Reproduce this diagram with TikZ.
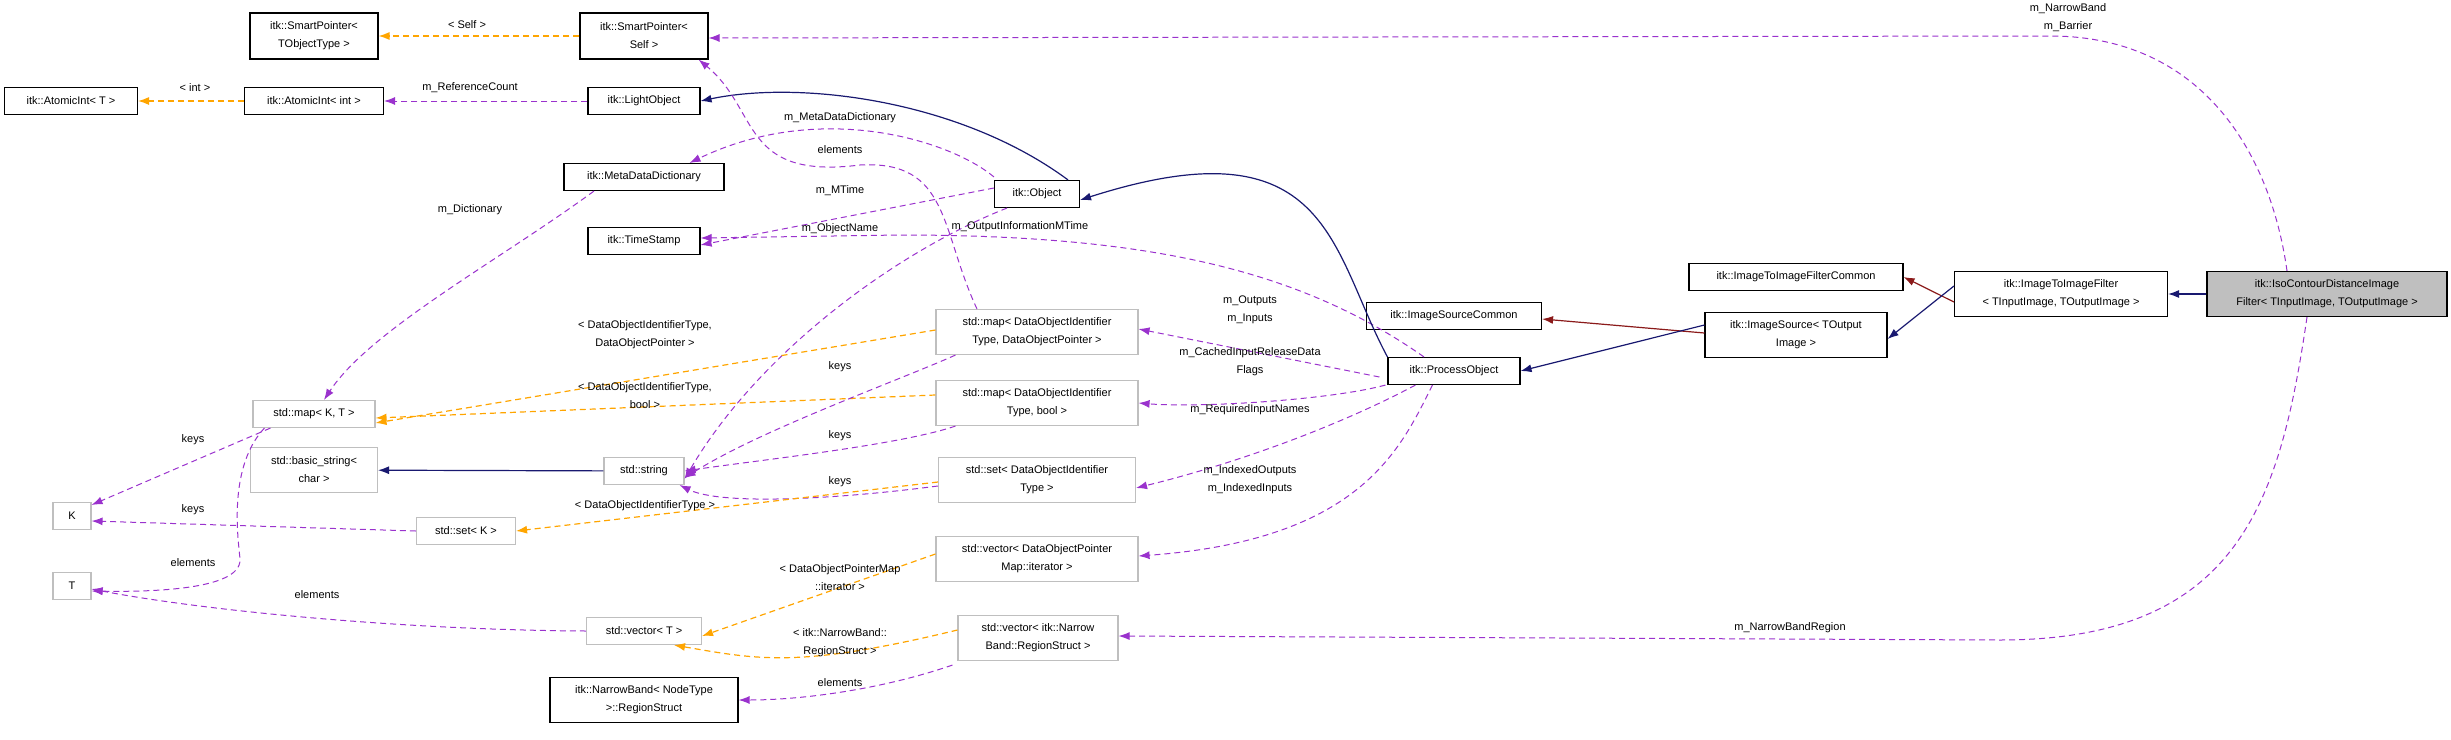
\documentclass[tikz,border=0pt]{standalone}
\usepackage{fontspec}
\setmainfont{Liberation Sans}
\usetikzlibrary{arrows.meta}
\definecolor{pur}{HTML}{9A32CD}
\definecolor{org}{HTML}{FFA500}
\definecolor{nav}{HTML}{191970}
\definecolor{drd}{HTML}{8B1A1A}
\definecolor{gbd}{HTML}{BFBFBF}
\begin{document}
\begin{tikzpicture}[x=1pt,y=-1pt,
  every node/.style={font=\fontsize{11}{18}\selectfont, inner sep=2pt},
  ib/.style={draw=black, line width=1.1pt, fill=white, align=center},
  gb/.style={draw=gbd, line width=1.1pt, fill=white, align=center},
  lbl/.style={align=center},
  tip/.style={-{Latex[length=11pt,width=8pt]}},
  mem/.style={tip, draw=pur, line width=1pt, dash pattern=on 6pt off 4pt},
  tpl/.style={tip, draw=org, line width=1.2pt, dash pattern=on 6pt off 4pt},
  inh/.style={tip, draw=nav, line width=1.2pt},
  inr/.style={tip, draw=drd, line width=1.2pt}]
\useasboundingbox (0,0) rectangle (2451,739);
% nodes
\node[ib, minimum width=128pt, minimum height=46pt] (spT) at (314,36) {itk::SmartPointer<\\TObjectType >};
\node[ib, minimum width=128pt, minimum height=46pt] (spS) at (644,36) {itk::SmartPointer<\\Self >};
\node[ib, minimum width=133pt, minimum height=27pt] (aiT) at (71,101) {itk::AtomicInt< T >};
\node[ib, minimum width=139pt, minimum height=27pt] (aiI) at (314,101) {itk::AtomicInt< int >};
\node[ib, minimum width=112pt, minimum height=27pt] (lo) at (644,101) {itk::LightObject};
\node[ib, minimum width=160pt, minimum height=27pt] (mdd) at (644,177) {itk::MetaDataDictionary};
\node[ib, minimum width=112pt, minimum height=27pt] (ts) at (644,241) {itk::TimeStamp};
\node[ib, minimum width=85pt, minimum height=27pt] (obj) at (1037,194) {itk::Object};
\node[gb, minimum width=202pt, minimum height=45pt] (mDP) at (1037,332) {std::map< DataObjectIdentifier\\Type, DataObjectPointer >};
\node[gb, minimum width=202pt, minimum height=45pt] (mDB) at (1037,403) {std::map< DataObjectIdentifier\\Type, bool >};
\node[gb, minimum width=197pt, minimum height=45pt] (sD) at (1037,480) {std::set< DataObjectIdentifier\\Type >};
\node[gb, minimum width=202pt, minimum height=45pt] (vDP) at (1037,559) {std::vector< DataObjectPointer\\Map::iterator >};
\node[gb, minimum width=160pt, minimum height=45pt] (vNB) at (1038,638) {std::vector< itk::Narrow\\Band::RegionStruct >};
\node[ib, minimum width=132pt, minimum height=27pt] (po) at (1454,371) {itk::ProcessObject};
\node[ib, minimum width=175pt, minimum height=27pt] (isc) at (1454,316) {itk::ImageSourceCommon};
\node[ib, minimum width=182pt, minimum height=45pt] (is) at (1796,335) {itk::ImageSource< TOutput\\Image >};
\node[ib, minimum width=214pt, minimum height=27pt] (itic) at (1796,277) {itk::ImageToImageFilterCommon};
\node[ib, minimum width=213pt, minimum height=45pt] (iti) at (2061,294) {itk::ImageToImageFilter\\< TInputImage, TOutputImage >};
\node[ib, fill=gbd, minimum width=240pt, minimum height=45pt] (iso) at (2327,294) {itk::IsoContourDistanceImage\\Filter< TInputImage, TOutputImage >};
\node[gb, minimum width=122pt, minimum height=27pt] (mKT) at (314,414) {std::map< K, T >};
\node[gb, minimum width=127pt, minimum height=45pt] (bs) at (314,470) {std::basic\_string<\\char >};
\node[gb, minimum width=80pt, minimum height=27pt] (str) at (644,471) {std::string};
\node[gb, minimum width=38pt, minimum height=27pt] (K) at (72,516) {K};
\node[gb, minimum width=99pt, minimum height=27pt] (sK) at (466,531) {std::set< K >};
\node[gb, minimum width=38pt, minimum height=27pt] (T) at (72,586) {T};
\node[gb, minimum width=115pt, minimum height=27pt] (vT) at (644,631) {std::vector< T >};
\node[ib, minimum width=188pt, minimum height=45pt] (nbr) at (644,700) {itk::NarrowBand< NodeType\\ >::RegionStruct};
% edges
\draw[tpl] (spS) -- (spT);
\node[lbl] (l1) at (467,25) {< Self >};
\draw[tpl] (aiI) -- (aiT);
\node[lbl] (l2) at (195,88) {< int >};
\draw[mem] (lo) -- (aiI);
\node[lbl] (l3) at (470,88) {m\_ReferenceCount};
\draw[inh] ([xshift=-12pt]obj.north east) .. controls (960,100) and (800,80) .. (lo.east);
\draw[mem] ([yshift=3pt]obj.north west) .. controls (950,140) and (820,100) .. ([xshift=-35pt]mdd.north east);
\node[lbl] (l4) at (840,118) {m\_MetaDataDictionary};
\draw[mem] ([yshift=6pt]obj.west) -- ([yshift=-4pt]ts.east);
\node[lbl] (l5) at (840,191) {m\_MTime};
\draw[mem] ([xshift=-30pt]obj.south) .. controls (900,250) and (760,350) .. ([yshift=-8pt]str.east);
\node[lbl] (l6) at (840,229) {m\_ObjectName};
\draw[mem] ([xshift=-30pt]po.north) .. controls (1300,270) and (1150,235) .. (900,235) -- ([yshift=3pt]ts.east);
\node[lbl] (l7) at (1020,227) {m\_OutputInformationMTime};
\draw[mem] ([xshift=-60pt]mDP.north) .. controls (940,230) and (950,160) .. (860,165) .. controls (740,180) and (760,110) .. ([xshift=-10pt]spS.south east);
\node[lbl] (l8) at (840,150) {elements};
\draw[inh] (po.north west) .. controls (1330,250) and (1330,120) .. ([yshift=-6pt]obj.east);
\draw[inr] ([yshift=2pt]is.west) -- ([yshift=-3pt]isc.east);
\draw[inh] ([yshift=10pt]is.west) -- (po.east);
\draw[inr] ([yshift=-8pt]iti.west) -- (itic.east);
\draw[inh] ([yshift=8pt]iti.west) -- ([yshift=-4pt]is.east);
\draw[inh] (iso) -- (iti);
\draw[mem] ([xshift=-8pt,yshift=-6pt]po.west) -- ([yshift=3pt]mDP.east);
\node[lbl] (l9) at (1250,310) {m\_Outputs\\m\_Inputs};
\draw[mem] ([xshift=-2pt]po.south west) .. controls (1330,400) and (1200,408) .. (mDB.east);
\node[lbl] (l10) at (1250,362) {m\_CachedInputReleaseData\\Flags};
\draw[mem] ([xshift=28pt]po.south west) .. controls (1350,420) and (1250,460) .. ([yshift=-8pt]sD.east);
\node[lbl] (l11) at (1250,410) {m\_RequiredInputNames};
\draw[mem] ([xshift=45pt]po.south west) .. controls (1400,450) and (1360,540) .. ([yshift=3pt]vDP.east);
\node[lbl] (l12) at (1250,480) {m\_IndexedOutputs\\m\_IndexedInputs};
\draw[mem] ([xshift=-40pt]iso.north) .. controls (2270,150) and (2200,36) .. (2050,36) -- ([yshift=-2pt]spS.east);
\node[lbl] (l13) at (2068,18) {m\_NarrowBand\\m\_Barrier};
\draw[mem] ([xshift=-20pt]iso.south) .. controls (2280,500) and (2240,640) .. (2000,640) -- ([yshift=2pt]vNB.east);
\node[lbl] (l14) at (1790,628) {m\_NarrowBandRegion};
\draw[tpl] ([yshift=2pt]mDP.west) -- ([yshift=-9pt]mKT.east);
\node[lbl] (l15) at (645,335) {< DataObjectIdentifierType,\\DataObjectPointer >};
\draw[tpl] ([yshift=8pt]mDB.west) -- ([yshift=-4pt]mKT.east);
\node[lbl] (l16) at (645,396) {< DataObjectIdentifierType,\\bool >};
\draw[mem] ([xshift=20pt]mDP.south west) .. controls (900,380) and (760,430) .. ([yshift=-7pt]str.east);
\node[lbl] (l17) at (840,367) {keys};
\draw[mem] ([xshift=20pt]mDB.south west) .. controls (900,445) and (760,460) .. (str.east);
\node[lbl] (l18) at (840,436) {keys};
\draw[mem] ([yshift=-6pt]sD.west) .. controls (830,500) and (720,505) .. ([xshift=-5pt]str.south east);
\node[lbl] (l19) at (840,482) {keys};
\draw[tpl] ([yshift=-2pt]sD.west) -- (sK.east);
\node[lbl] (l20) at (645,506) {< DataObjectIdentifierType >};
\draw[inh] (str) -- (bs);
\draw[mem] ([xshift=-50pt]mdd.south) .. controls (500,260) and (370,330) .. ([xshift=10pt]mKT.north);
\node[lbl] (l21) at (470,210) {m\_Dictionary};
\draw[mem] ([xshift=18pt]mKT.south west) -- ([yshift=-3pt]K.north east);
\node[lbl] (l22) at (193,440) {keys};
\draw[mem] ([xshift=12pt]mKT.south west) .. controls (225,470) and (240,550) .. (240,560) .. controls (240,590) and (150,592) .. ([yshift=-5pt]T.east);
\node[lbl] (l23) at (193,563) {elements};
\draw[mem] (sK.west) -- ([yshift=-5pt]K.east);
\node[lbl] (l24) at (193,510) {keys};
\draw[mem] (vT.west) .. controls (400,630) and (200,610) .. ([yshift=-3pt]T.east);
\node[lbl] (l25) at (317,595) {elements};
\draw[tpl] ([yshift=5pt]vDP.west) -- ([yshift=-5pt]vT.east);
\node[lbl] (l26) at (840,578) {< DataObjectPointerMap\\::iterator >};
\draw[tpl] ([yshift=8pt]vNB.west) .. controls (800,668) and (760,660) .. ([xshift=30pt]vT.south);
\node[lbl] (l27) at (840,643) {< itk::NarrowBand::\\RegionStruct >};
\draw[mem] ([xshift=-5pt,yshift=-4pt]vNB.south west) .. controls (880,690) and (800,700) .. (nbr.east);
\node[lbl] (l28) at (840,683) {elements};
\end{tikzpicture}
\end{document}
